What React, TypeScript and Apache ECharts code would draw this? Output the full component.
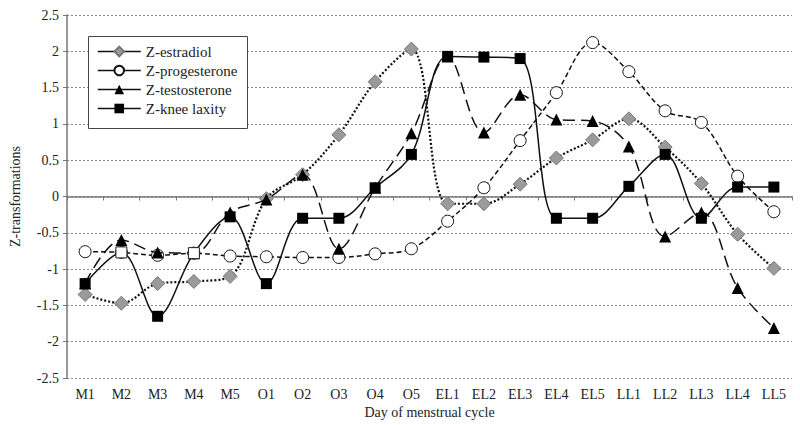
import React, { useEffect, useRef } from "react";
import * as echarts from "echarts";

const categories = ["M1","M2","M3","M4","M5","O1","O2","O3","O4","O5","EL1","EL2","EL3","EL4","EL5","LL1","LL2","LL3","LL4","LL5"];
const estradiol = [-1.35,-1.47,-1.2,-1.17,-1.1,-0.03,0.3,0.85,1.58,2.03,-0.1,-0.1,0.17,0.53,0.78,1.07,0.68,0.18,-0.52,-0.99];
const progesterone = [-0.76,-0.77,-0.81,-0.78,-0.82,-0.83,-0.84,-0.84,-0.79,-0.72,-0.34,0.12,0.77,1.43,2.12,1.72,1.18,1.02,0.28,-0.21];
const testosterone = [-1.2,-0.6,-0.77,-0.78,-0.22,-0.04,0.3,-0.72,0.12,0.87,1.93,0.88,1.4,1.06,1.04,0.69,-0.55,-0.22,-1.26,-1.81];
const kneeLaxity = [-1.2,-0.77,-1.65,-0.78,-0.28,-1.2,-0.3,-0.3,0.12,0.58,1.93,1.92,1.9,-0.3,-0.3,0.14,0.58,-0.3,0.13,0.13];
const openKneeIdx = [1, 3];
const yTicks = { min: -2.5, max: 2.5, interval: 0.5 };

const FONT = "Liberation Serif";

export default function App() {
  const ref = useRef<HTMLDivElement>(null);
  useEffect(() => {
    const chart = echarts.init(ref.current!, null, { renderer: "svg" });
    chart.setOption({
      animation: false,
      backgroundColor: "#fff",
      textStyle: { fontFamily: FONT },
      grid: { left: 62, right: 8, top: 15, bottom: 47 },
      graphic: [
        {
          type: "rect",
          z: 10,
          shape: { x: 88.5, y: 36.5, width: 159, height: 92 },
          style: { fill: "#fff", stroke: "#444", lineWidth: 1 },
        },
      ],
      legend: {
        orient: "vertical",
        left: 97,
        top: 44,
        z: 11,
        padding: 0,
        itemWidth: 43,
        itemHeight: 12,
        itemGap: 4,
        textStyle: { fontFamily: FONT, fontSize: 15, color: "#222" },
        lineStyle: { type: "solid", width: 1.5 },
        data: ["Z-estradiol", "Z-progesterone", "Z-testosterone", "Z-knee laxity"],
      },
      xAxis: {
        type: "category",
        data: categories,
        boundaryGap: true,
        name: "Day of menstrual cycle",
        nameLocation: "middle",
        nameGap: 27,
        nameTextStyle: { fontFamily: FONT, fontSize: 14, color: "#222" },
        axisLine: { lineStyle: { color: "#777", width: 1.5 } },
        axisTick: { show: true, length: 4, lineStyle: { color: "#777" } },
        axisLabel: { fontFamily: FONT, fontSize: 14, color: "#222", margin: 9 },
        splitLine: { show: false },
      },
      yAxis: {
        type: "value",
        min: yTicks.min,
        max: yTicks.max,
        interval: yTicks.interval,
        name: "Z-transformations",
        nameLocation: "middle",
        nameGap: 45,
        nameTextStyle: { fontFamily: FONT, fontSize: 14, color: "#222" },
        axisLine: { show: true, lineStyle: { color: "#777", width: 1.5 } },
        axisTick: { show: true, length: 4, lineStyle: { color: "#777" } },
        axisLabel: { fontFamily: FONT, fontSize: 14, color: "#222", margin: 8 },
        splitLine: { show: true, lineStyle: { color: "#888", type: [2, 2], width: 1 } },
      },
      series: [
        {
          name: "Z-estradiol",
          type: "line",
          data: estradiol,
          smooth: 0.35,
          symbol: "diamond",
          symbolSize: 14,
          z: 2,
          lineStyle: { color: "#111", width: 2.2, type: [2, 2] },
          itemStyle: { color: "#9a9a9a", borderColor: "#777", borderWidth: 1 },
        },
        {
          name: "Z-progesterone",
          type: "line",
          data: progesterone,
          smooth: 0.35,
          symbol: "circle",
          symbolSize: 12,
          z: 3,
          lineStyle: { color: "#111", width: 1.5, type: [5, 3] },
          itemStyle: { color: "#fff", borderColor: "#111", borderWidth: 1 },
        },
        {
          name: "Z-testosterone",
          type: "line",
          data: testosterone,
          smooth: 0.35,
          symbol: "triangle",
          symbolSize: 12,
          z: 4,
          lineStyle: { color: "#111", width: 1.5, type: [12, 6] },
          itemStyle: { color: "#000" },
        },
        {
          name: "Z-knee laxity",
          type: "line",
          data: kneeLaxity.map((v, i) =>
            openKneeIdx.includes(i)
              ? { value: v, itemStyle: { color: "#fff", borderColor: "#222", borderWidth: 1 } }
              : v
          ),
          smooth: 0.35,
          symbol: "rect",
          symbolSize: 11,
          z: 5,
          lineStyle: { color: "#111", width: 1.5, type: "solid" },
          itemStyle: { color: "#000" },
        },
      ],
    });
    return () => chart.dispose();
  }, []);
  return <div ref={ref} style={{ width: 800, height: 425, position: "absolute", left: 0, top: 0 }} />;
}
